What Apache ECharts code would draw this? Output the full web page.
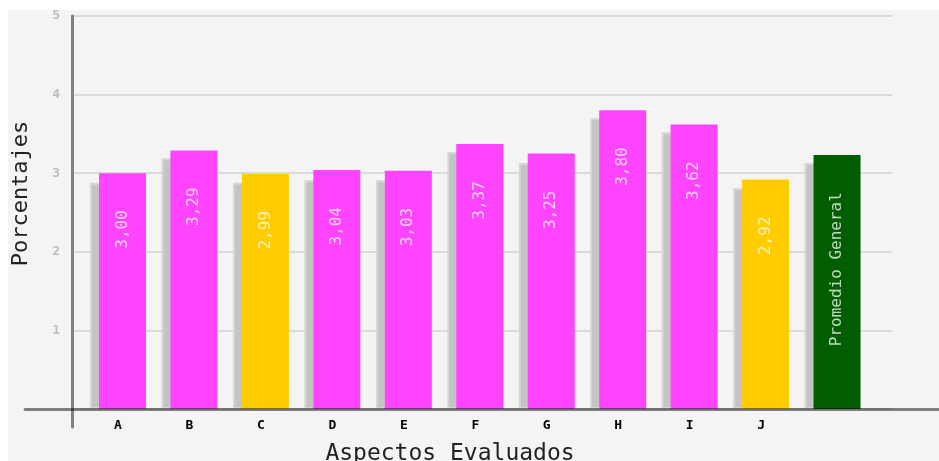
<!DOCTYPE html>
<html>
<head>
<meta charset="utf-8">
<script type="text/javascript" src="https://cdn.jsdelivr.net/npm/echarts@6/dist/echarts.min.js"></script>
<style>
  html, body { margin: 0; padding: 0; background: #ffffff; }
  #chart { width: 939px; height: 461px; }
</style>
</head>
<body>
<div id="chart"></div>
<script>
// datos
var categorias = ['A', 'B', 'C', 'D', 'E', 'F', 'G', 'H', 'I', 'J', ''];
var valores = [3.00, 3.29, 2.99, 3.04, 3.03, 3.37, 3.25, 3.80, 3.62, 2.92, 3.23];
var sombra = [2.88, 3.19, 2.88, 2.91, 2.91, 3.27, 3.13, 3.70, 3.52, 2.81, 3.13];   // barra gris de atras
var etiquetas = ['3,00', '3,29', '2,99', '3,04', '3,03', '3,37', '3,25', '3,80', '3,62', '2,92', 'Promedio General'];
var colores = ['#ff44ff', '#ff44ff', '#ffcc00', '#ff44ff', '#ff44ff', '#ff44ff', '#ff44ff', '#ff44ff', '#ff44ff', '#ffcc00', '#005e00'];
var ticksY = [0, 1, 2, 3, 4, 5];

var fuente = 'DejaVu Sans Mono';
var chart = echarts.init(document.getElementById('chart'));

var option = {
  animation: false,
  grid: [
    {left: 8, top: 10, right: 0, bottom: 0, show: true, backgroundColor: '#f4f4f4', borderWidth: 0, outerBoundsMode: 'none'},   // fondo
    {left: 72, top: 16, right: 47, bottom: 52, outerBoundsMode: 'none'},   // lineas de la grilla
    {left: 72, top: 16, width: 1, bottom: 34, outerBoundsMode: 'none'},    // eje y
    {left: 25, top: 16, right: 0, bottom: 52, outerBoundsMode: 'none'},    // eje x
    {left: 82.3, top: 16, right: 70.7, bottom: 52, outerBoundsMode: 'none'} // barras
  ],
  xAxis: [
    {gridIndex: 0, show: false},
    {gridIndex: 1, show: false},
    {gridIndex: 2, show: false},
    {
      gridIndex: 3, type: 'value', min: 0, max: 1, z: 10,
      axisLine: {show: true, onZero: false, lineStyle: {color: 'rgba(0,0,0,0.48)', width: 3}},
      axisTick: {show: false}, axisLabel: {show: false}, splitLine: {show: false},
      name: 'Aspectos Evaluados', nameLocation: 'middle', nameGap: 34,
      nameTextStyle: {fontFamily: fuente, fontSize: 23, color: '#222', padding: [0, 64, 0, 0]}
    },
    {
      gridIndex: 4, type: 'category', data: categorias,
      axisLine: {show: false}, axisTick: {show: false},
      axisLabel: {interval: 0, margin: 10, fontFamily: fuente, fontSize: 13, fontWeight: 'bold', color: '#000'}
    }
  ],
  yAxis: [
    {gridIndex: 0, show: false},
    {
      gridIndex: 1, type: 'value', min: ticksY[0], max: ticksY[ticksY.length - 1], interval: 1,
      axisLine: {show: false}, axisTick: {show: false},
      axisLabel: {
        margin: 12, fontFamily: fuente, fontSize: 13, fontWeight: 'bold', color: '#bdbdbd',
        formatter: function (v) { return v === 0 ? '' : String(v); }
      },
      splitLine: {lineStyle: {color: '#dadada', width: 2}}
    },
    {
      gridIndex: 2, type: 'value', min: 0, max: 1,
      axisLine: {show: true, lineStyle: {color: '#808080', width: 3}},
      axisTick: {show: false}, axisLabel: {show: false}, splitLine: {show: false},
      name: 'Porcentajes', nameLocation: 'middle', nameGap: 40,
      nameTextStyle: {fontFamily: fuente, fontSize: 22, color: '#222', padding: [0, 0, 0, 56]}
    },
    {gridIndex: 3, show: false},
    {gridIndex: 4, type: 'value', min: 0, max: 5, show: false}
  ],
  series: [
    {
      name: 'sombra', type: 'bar', xAxisIndex: 4, yAxisIndex: 4,
      barWidth: 47, barGap: '-81%',
      itemStyle: {color: '#c4c4c4', borderColor: '#d6d6d6', borderWidth: 2},
      data: sombra
    },
    {
      name: 'valores', type: 'bar', xAxisIndex: 4, yAxisIndex: 4,
      barWidth: 47,
      itemStyle: {color: function (p) { return colores[p.dataIndex]; }},
      label: {
        show: true, position: 'insideTop', distance: 37, rotate: 90,
        align: 'right', verticalAlign: 'middle',
        fontFamily: fuente, fontSize: 16, color: 'rgba(255,255,255,0.75)',
        formatter: function (p) { return etiquetas[p.dataIndex]; }
      },
      data: valores
    }
  ]
};
chart.setOption(option);
</script>
</body>
</html>
